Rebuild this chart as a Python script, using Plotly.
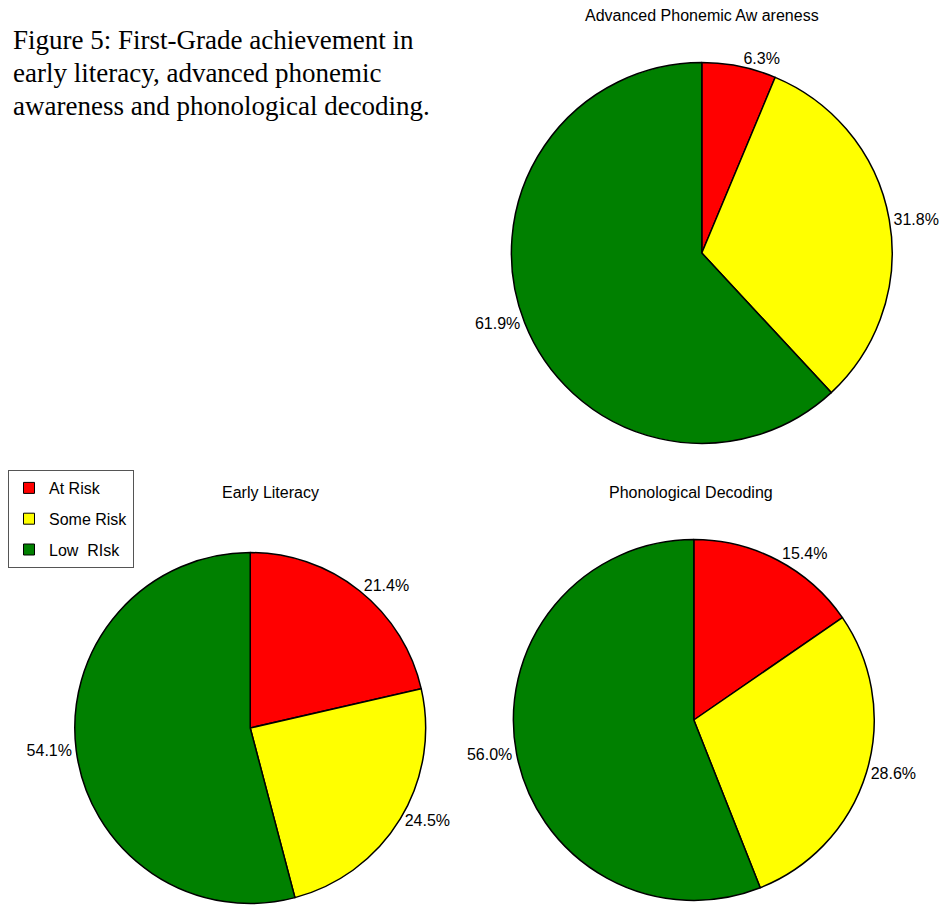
import plotly.graph_objects as go

categories = ["At Risk", "Some Risk", "Low  RIsk"]
colors = ["#FF0000", "#FFFF00", "#008000"]

apa_title = "Advanced Phonemic Aw areness"
apa_values = [6.3, 31.8, 61.9]

el_title = "Early Literacy"
el_values = [21.4, 24.5, 54.1]

pd_title = "Phonological Decoding"
pd_values = [15.4, 28.6, 56.0]

caption_lines = [
    "Figure 5: First-Grade achievement in",
    "early literacy, advanced phonemic",
    "awareness and phonological decoding.",
]

# page body has an 8px margin; figure is sized to fit the window
OFF = 8
W, H = 947 - OFF, 914 - OFF

def px(x):
    return (x - OFF) / W

def py(y):
    return 1 - (y - OFF) / H

def dom(cx, cy, r):
    return dict(x=[px(cx - r), px(cx + r)], y=[py(cy + r), py(cy - r)])

fig = go.Figure()

for vals, d in [
    (apa_values, dom(701, 253, 191)),
    (el_values, dom(248, 728, 176)),
    (pd_values, dom(693, 720, 181)),
]:
    fig.add_trace(go.Pie(
        labels=categories,
        values=vals,
        sort=False,
        direction="clockwise",
        rotation=0,
        marker=dict(colors=colors, line=dict(color="black", width=1.5)),
        texttemplate="%{value:.1f}%",
        textposition="outside",
        textfont=dict(family="Liberation Sans, Arial", size=16, color="black"),
        domain=d,
        showlegend=False,
        hoverinfo="label+value",
    ))

# legend entries (one group each so a gap can separate rows)
for i, (cat, col) in enumerate(zip(categories, colors)):
    fig.add_trace(go.Scatter(
        x=[None], y=[None], mode="markers", name=cat,
        legendgroup=f"g{i}",
        marker=dict(symbol="square", size=11, color=col, line=dict(color="black", width=1)),
        showlegend=True, hoverinfo="skip",
    ))

caption_ann = [
    dict(text=line, x=px(OFF), y=py(yc), xref="paper", yref="paper",
         showarrow=False, align="left", xanchor="left", yanchor="middle",
         font=dict(family="Liberation Serif, serif", size=27, color="black"))
    for line, yc in zip(caption_lines, [40, 73, 106])
]

fig.update_layout(
    width=W, height=H,
    margin=dict(l=0, r=0, t=0, b=0),
    paper_bgcolor="white",
    plot_bgcolor="white",
    font=dict(family="Liberation Sans, Arial", size=16, color="black"),
    xaxis=dict(visible=False),
    yaxis=dict(visible=False),
    legend=dict(
        x=px(5), y=py(470), xanchor="left", yanchor="top",
        bordercolor="#555555", borderwidth=1,
        font=dict(size=16, color="black"),
        traceorder="grouped",
        tracegroupgap=7,
        itemwidth=30,
        bgcolor="white",
    ),
    annotations=[
        dict(text=apa_title, x=px(701), y=py(15), xref="paper", yref="paper",
             showarrow=False, font=dict(size=16), xanchor="center", yanchor="middle"),
        dict(text=el_title, x=px(268), y=py(493), xref="paper", yref="paper",
             showarrow=False, font=dict(size=16), xanchor="center", yanchor="middle"),
        dict(text=pd_title, x=px(690), y=py(493), xref="paper", yref="paper",
             showarrow=False, font=dict(size=16), xanchor="center", yanchor="middle"),
    ] + caption_ann,
)

fig.write_html("out.html")
